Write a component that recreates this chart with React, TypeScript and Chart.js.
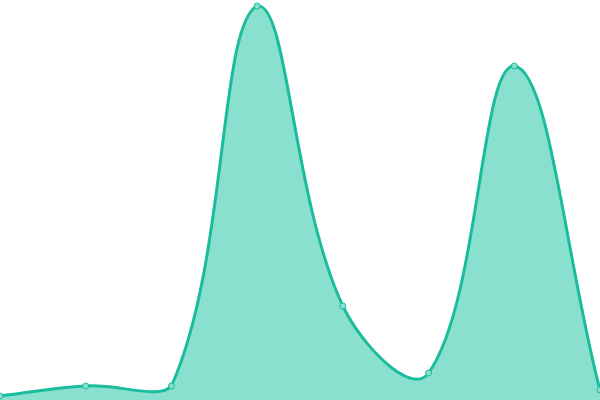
import { useEffect, useRef } from "react"
import { Chart, type ChartConfiguration, registerables } from "chart.js"

Chart.register(...registerables)

const labels = ["A", "B", "C", "D", "E", "F", "G", "H"]
const values = [1, 3.5, 3.5, 98.5, 23.5, 6.75, 83.5, 2.5]

export default function App() {
  const chartRef = useRef<HTMLCanvasElement>(null)
  const chartInstance = useRef<Chart | null>(null)

  useEffect(() => {
    if (!chartRef.current) return
    const ctx = chartRef.current.getContext("2d")
    if (!ctx) return

    if (chartInstance.current) {
      chartInstance.current.destroy()
    }

    const config: ChartConfiguration = {
      type: "line",
      data: {
        labels,
        datasets: [
          {
            data: values,
            borderColor: "#1abc9c",
            backgroundColor: "#8ae0cf",
            borderWidth: 3,
            tension: 0.4,
            fill: true,
            pointRadius: 3,
            pointBorderWidth: 1,
            pointBackgroundColor: "#8ae0cf",
            pointBorderColor: "#1abc9c",
          },
        ],
      },
      options: {
        animation: false,
        responsive: true,
        maintainAspectRatio: false,
        layout: { padding: 0, autoPadding: false },
        scales: {
          x: { display: false },
          y: { display: false, min: 0, max: 100 },
        },
        plugins: {
          legend: { display: false },
          tooltip: { enabled: false },
        },
      },
    }

    chartInstance.current = new Chart(ctx, config)

    return () => {
      if (chartInstance.current) {
        chartInstance.current.destroy()
        chartInstance.current = null
      }
    }
  }, [])

  return (
    <div style={{ position: "fixed", left: 0, top: 0, width: 600, height: 400, background: "#fff" }}>
      <canvas ref={chartRef} />
    </div>
  )
}
